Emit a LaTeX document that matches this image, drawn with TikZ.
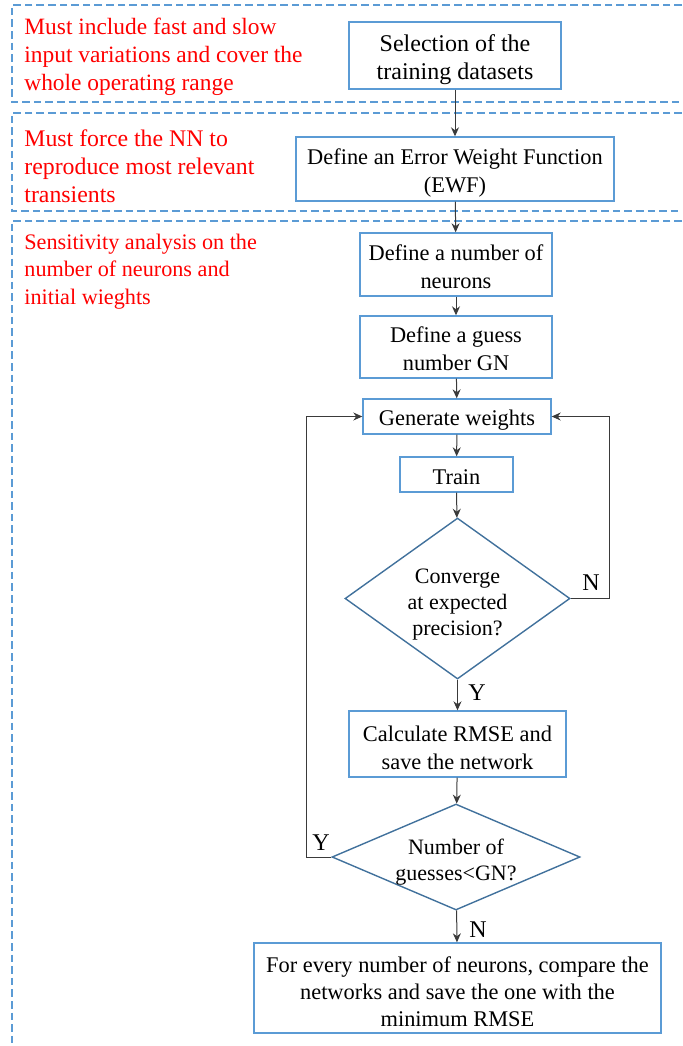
\documentclass[tikz,border=0pt]{standalone}
\usepackage{fontspec}
\setmainfont{Liberation Serif}
\usetikzlibrary{shapes.geometric,arrows.meta}
\definecolor{dashblue}{HTML}{5B9BD5}
\definecolor{boxblue}{HTML}{5B9BD5}
\definecolor{diablue}{HTML}{41719C}
\definecolor{arrowgray}{HTML}{3A3A3A}
\newcommand\mystrut[1]{\rule{0pt}{#1}}
\begin{document}
\begin{tikzpicture}[x=0.5pt,y=-0.5pt,
  box/.style={draw=boxblue, line width=0.7pt, align=center, inner sep=0pt,
    font=\fontsize{11.2}{14}\selectfont},
  dia/.style={draw=diablue, line width=0.7pt, diamond, inner sep=0pt},
  diatext/.style={align=center, inner sep=0pt, font=\fontsize{11}{13}\selectfont},
  note/.style={text=red, align=left, anchor=west, inner sep=0pt},
  lbl/.style={inner sep=0pt, font=\fontsize{12}{14}\selectfont},
  arr/.style={draw=arrowgray, line width=0.5pt, -{Stealth[length=4.5pt,width=4pt]}},
  sect/.style={draw=dashblue, line width=0.6pt, dash pattern=on 3.8pt off 2pt}]
\useasboundingbox (0,0) rectangle (682,1046);

% section frames
\draw[sect] (682,5) -- (12,5) -- (12,102) -- (682,102);
\draw[sect] (682,113) -- (12,113) -- (12,211) -- (682,211);
\draw[sect] (682,221) -- (12,221) -- (12,1046);

% notes
\node[note, font=\fontsize{11.7}{14}\selectfont] (n1) at (24,57) {Must include fast and slow\\input variations and cover the\\whole operating range};
\node[note, font=\fontsize{11.9}{14}\selectfont] (n2) at (24,166) {Must force the NN to\\reproduce most relevant\\transients};
\node[note, font=\fontsize{11.1}{13.8}\selectfont] (n3) at (24,271.5) {Sensitivity analysis on the\\number of neurons and\\initial wieghts};

% nodes
\node[box, minimum width=106pt, minimum height=33.5pt, font=\fontsize{12}{14}\selectfont] (sel) at (455,55.5) {\mystrut{13pt}Selection of the\\training datasets};
\node[box, minimum width=159pt, minimum height=32pt] (ewf) at (455,169) {\mystrut{11.5pt}Define an Error Weight Function\\(EWF)};
\node[box, minimum width=96pt, minimum height=31.5pt] (neu) at (456,264.5) {\mystrut{10.5pt}Define a number of\\neurons};
\node[box, minimum width=96pt, minimum height=31pt] (gn) at (456,347) {\mystrut{9.5pt}Define a guess\\number GN};
\node[box, minimum width=94pt, minimum height=17.5pt] (gen) at (457,416.5) {\mystrut{11.5pt}Generate weights};
\node[box, minimum width=56.5pt, minimum height=17.5pt] (tr) at (456.5,474.5) {\mystrut{10.5pt}Train};
\node[dia, minimum width=112.5pt, minimum height=80.5pt, shape aspect=1.4] (d1) at (457.5,598.5) {};
\node[diatext] (d1t) at ([yshift=-3pt]d1.center) {Converge\\at expected\\precision?};
\node[box, minimum width=108.5pt, minimum height=33pt] (rmse) at (457.5,744) {\mystrut{11.5pt}Calculate RMSE and\\save the network};
\node[dia, minimum width=124pt, minimum height=53pt, shape aspect=2.34] (d2) at (456,857) {};
\node[diatext] (d2t) at ([yshift=-2.5pt]d2.center) {Number of\\guesses<GN?};
\node[box, minimum width=203.5pt, minimum height=45pt, font=\fontsize{11.2}{13.5}\selectfont] (fin) at (457.5,988) {\mystrut{11.5pt}For every number of neurons, compare the\\networks and save the one with the\\minimum RMSE};

% connectors
\draw[arr] (sel) -- (ewf);
\draw[arr] (ewf) -- (neu);
\draw[arr] (neu) -- (gn);
\draw[arr] (gn) -- (gen);
\draw[arr] (gen) -- (tr);
\draw[arr] (tr) -- (d1);
\draw[arr] (d1) -- (rmse);
\draw[arr] (rmse) -- (d2);
\draw[arr] (d2) -- (fin);
\draw[arr] (d1.east) -- ++(39,0) |- (gen.east);
\draw[arr] (d2.west) -- ++(-25,0) |- (gen.west);

% labels
\node[lbl] (ln1) at (591,583) {N};
\node[lbl] (ly1) at (477,693) {Y};
\node[lbl] (ly2) at (321,843) {Y};
\node[lbl] (ln2) at (478,930) {N};
\end{tikzpicture}
\end{document}
